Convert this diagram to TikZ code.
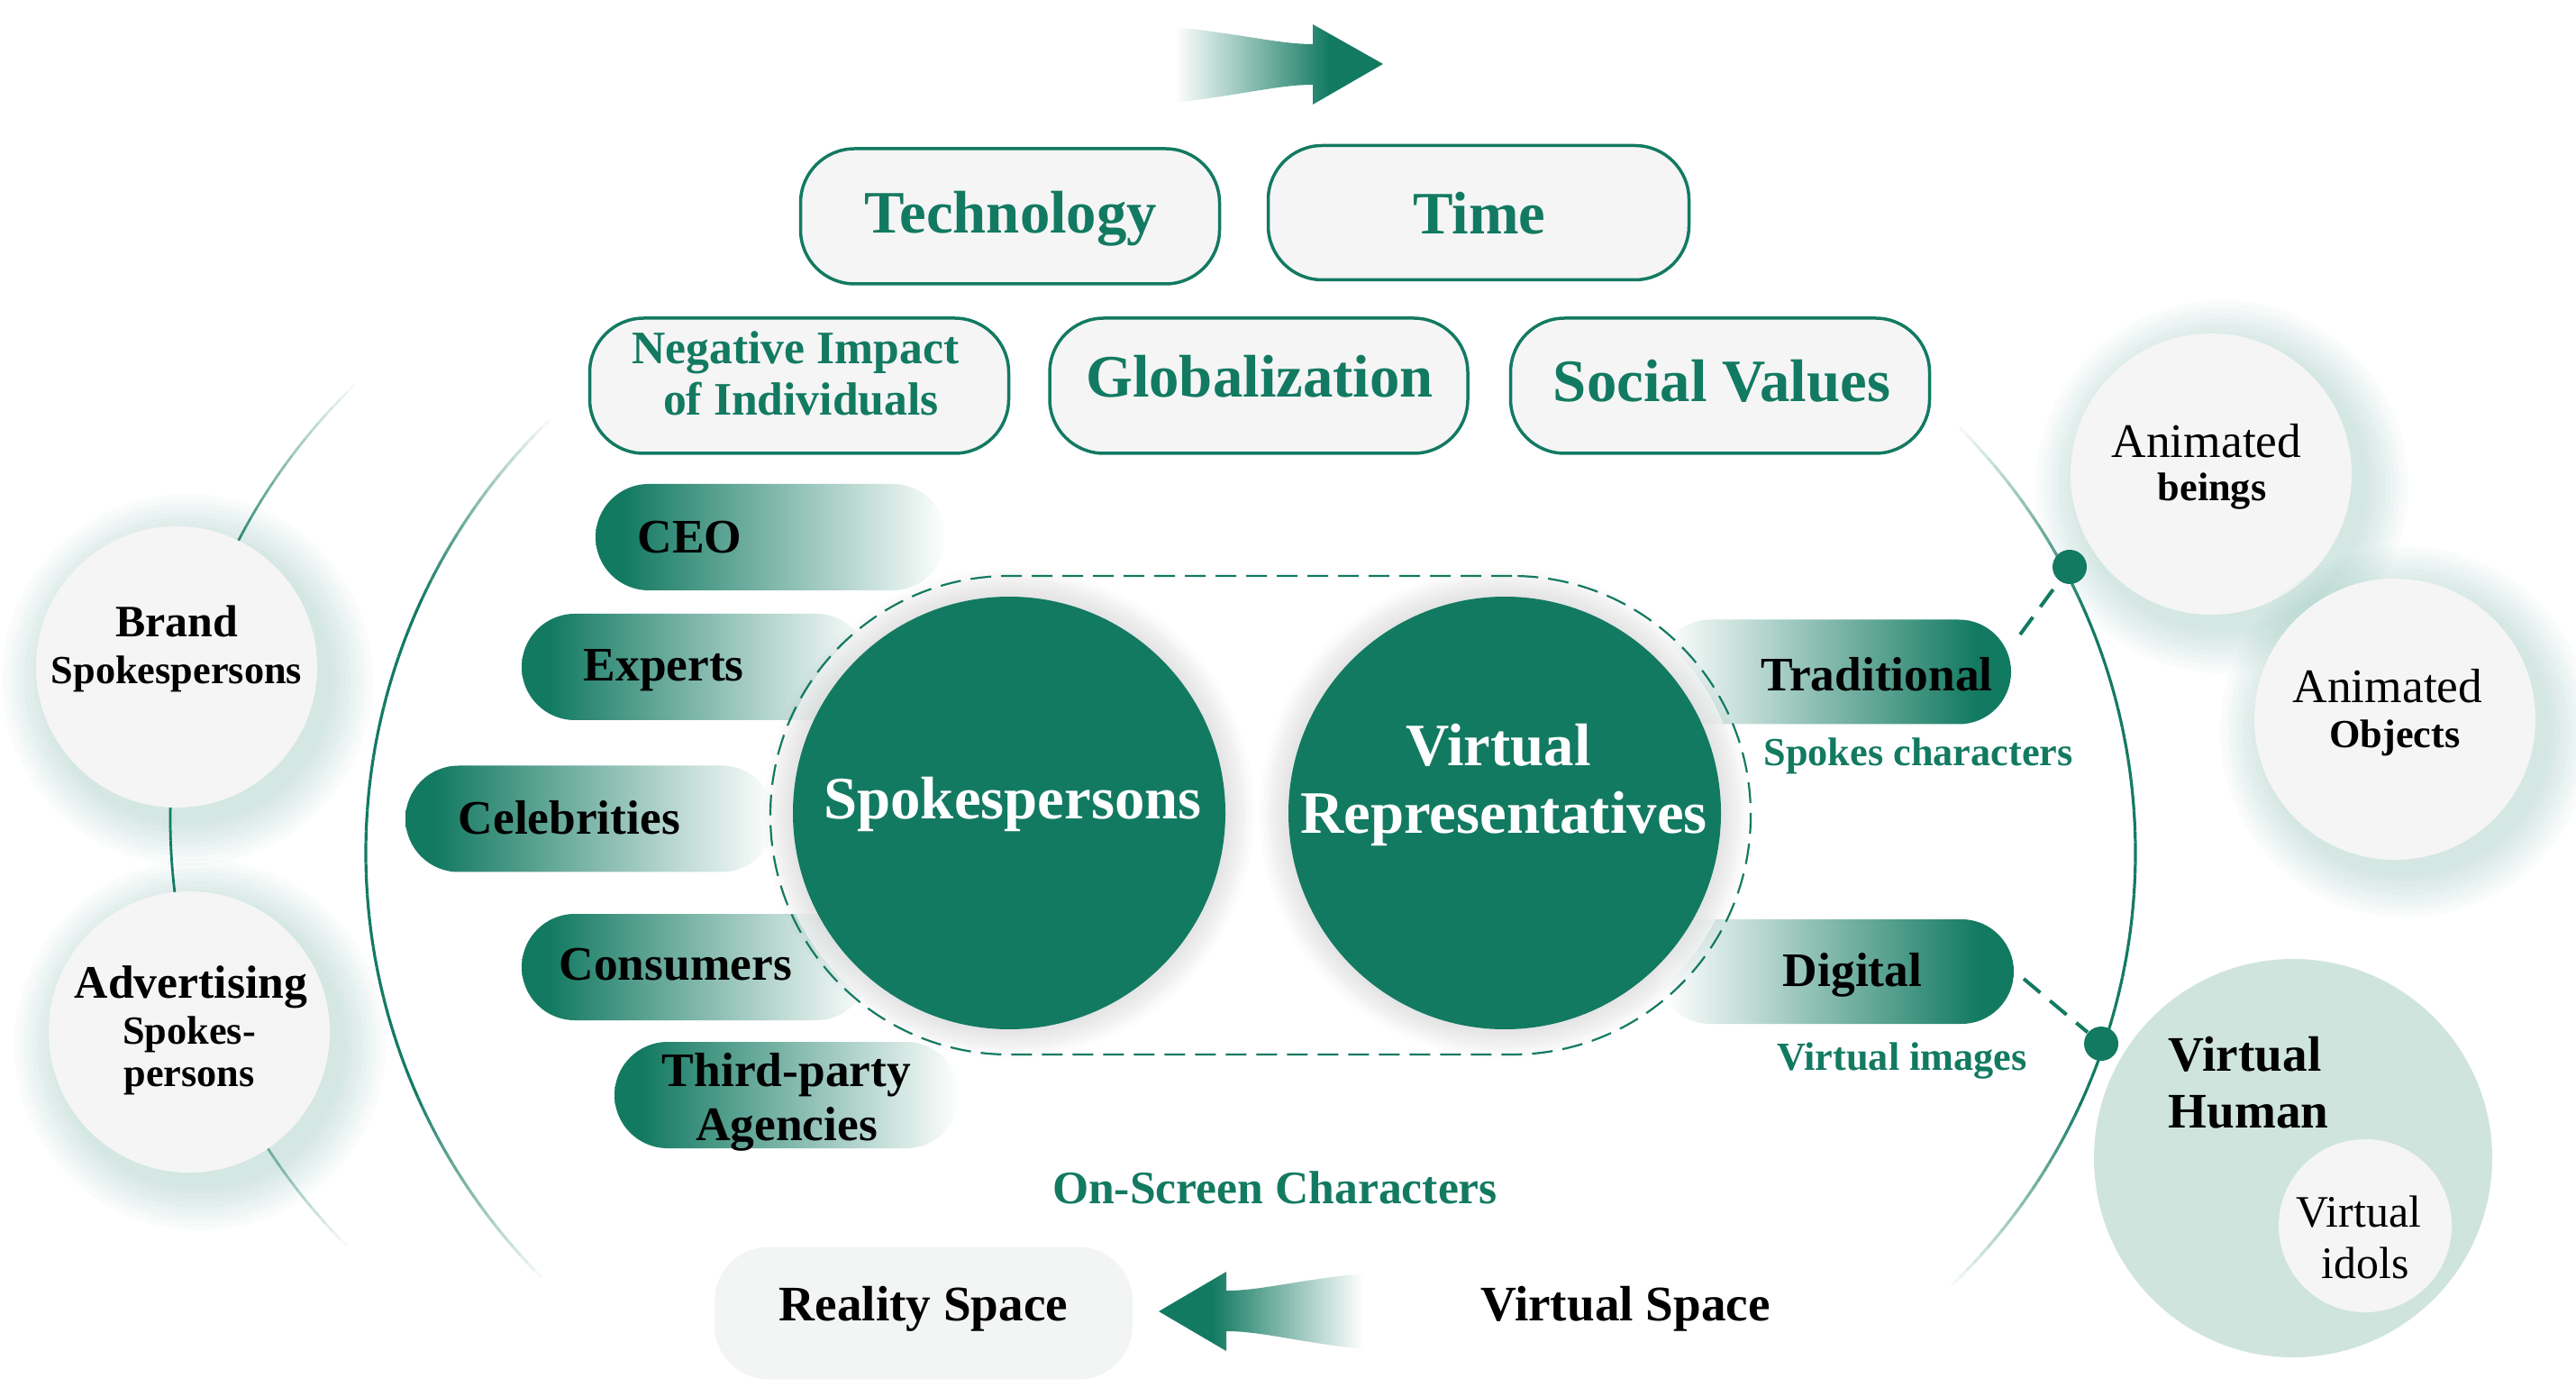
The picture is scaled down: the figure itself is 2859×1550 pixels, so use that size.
\documentclass[tikz,border=0pt]{standalone}
\usepackage{fontspec}
\setmainfont{Liberation Serif}
\definecolor{tg}{HTML}{137A62}
\definecolor{lg}{HTML}{F5F5F5}
\definecolor{lgreen}{HTML}{CFE4DD}
\definecolor{rsfill}{HTML}{F2F5F3}
\pgfdeclarehorizontalshading{fadeR}{100bp}{color(0bp)=(tg); color(29bp)=(tg); color(75bp)=(white); color(100bp)=(white)}
\pgfdeclarehorizontalshading{fadeL}{100bp}{color(0bp)=(white); color(26bp)=(white); color(70bp)=(tg); color(100bp)=(tg)}
\pgfdeclarehorizontalshading{arrR}{100bp}{color(0bp)=(white); color(25bp)=(white); color(62bp)=(tg); color(100bp)=(tg)}
\pgfdeclarehorizontalshading{arrL}{100bp}{color(0bp)=(tg); color(38bp)=(tg); color(75bp)=(white); color(100bp)=(white)}
\newcommand\myXL{\fontsize{19}{22}\selectfont\bfseries}
\newcommand\myBar{\fontsize{15.2}{17}\selectfont\bfseries}
\newcommand\myM{\fontsize{14.7}{16}\selectfont\bfseries}
\newcommand\myS{\fontsize{12.6}{14}\selectfont\bfseries}
\newcommand\myglow[3]{\foreach \k in {1,...,10}{\fill[tg, opacity=0.021] (#1,#2) circle[radius={#3+5*\k}];}}
\newcommand\myhalo[2]{\fill[white, opacity=0.7] (#1,#2) circle[radius=262];\foreach \k in {1,...,8}{\fill[black, opacity=0.012] (#1,#2) circle[radius={240+4*\k}];}}
\begin{document}
\begin{tikzpicture}[x=0.1mm,y=-0.1mm,
  pill/.style={draw=tg, line width=0.35mm, fill=lg, rounded corners=6mm, inner sep=0},
  barR/.style={shade, shading=fadeR, rounded corners=5.9mm, minimum height=11.8mm, inner sep=0},
  barL/.style={shade, shading=fadeL, rounded corners=5.8mm, minimum height=11.6mm, inner sep=0},
  bigc/.style={circle, fill=tg, inner sep=0, minimum size=48mm},
  smallc/.style={circle, fill=lg, inner sep=0, minimum size=31.2mm},
  lbl/.style={inner sep=0, anchor=base},
  lblw/.style={inner sep=0, anchor=base west},
  dotc/.style={circle, fill=tg, inner sep=0, minimum size=3.8mm},
  conn/.style={tg, line width=0.4mm, dash pattern=on 2.4mm off 1.4mm},
]
\useasboundingbox (0,0) rectangle (2859,1550);

% ---- big arcs with faded ends
\foreach \a in {134,...,225}{
  \pgfmathsetmacro\op{min(1,min(\a-134,226-\a)/22)}
  \draw[tg, line width=0.32mm, opacity=\op] (1073,946) ++(\a:667) arc[start angle=\a, end angle=\a+1, radius=667];
}
\foreach \a in {-46,...,45}{
  \pgfmathsetmacro\op{min(1,min(\a+46,46-\a)/22)}
  \draw[tg, line width=0.32mm, opacity=\op] (1703,946) ++(\a:667) arc[start angle=\a, end angle=\a+1, radius=667];
}
\foreach \a in {134,...,225}{
  \pgfmathsetmacro\op{min(1,min(\a-134,226-\a)/22)}
  \draw[tg, line width=0.28mm, opacity=\op] (859,909) ++(\a:670) arc[start angle=\a, end angle=\a+1, radius=670];
}

% ---- bars
\node[barR, minimum width=38.9mm] (ceoB) at (855.5,596) {};
\node[barR, minimum width=38.6mm] (expB) at (772,740) {};
\node[barR, minimum width=41mm] (celB) at (655,908.5) {};
\node[barR, minimum width=38.6mm] (conB) at (772,1073) {};
\node[barR, minimum width=38.3mm] (tpB) at (873.5,1215) {};
\node[barL, minimum width=39.2mm] (trB) at (2036,745.5) {};
\node[barL, minimum width=39.5mm] (diB) at (2037.5,1078) {};

% ---- halos of the big circles
\myhalo{1120}{902}
\myhalo{1670}{902}

% ---- dashed frame
\node[draw=tg, line width=0.22mm, dash pattern=on 2.3mm off 1.1mm, rounded corners=26.5mm,
      minimum width=108.8mm, minimum height=53.1mm, inner sep=0] (frame) at (1399,904.5) {};

% ---- big circles
\node[bigc] (spC) at (1120,902) {};
\node[bigc] (vrC) at (1670,902) {};

% ---- small circles
\myglow{208}{754}{156}
\node[smallc] (brandC) at (196,740) {};
\myglow{222}{1159}{156}
\node[smallc] (advC) at (210,1145) {};
\myglow{2466}{540}{157}
\node[smallc] (animBC) at (2454,526) {};
\myglow{2670}{812}{156}
\node[smallc] (animOC) at (2658,798) {};
\node[circle, fill=lgreen, inner sep=0, minimum size=44.2mm] (vhC) at (2545,1285) {};
\node[circle, fill=lg, inner sep=0, minimum size=19.2mm] (viC) at (2625,1360) {};

% ---- factor boxes
\node[pill, minimum width=46.5mm, minimum height=15mm] (techB) at (1121,240) {};
\node[pill, minimum width=46.7mm, minimum height=14.9mm] (timeB) at (1641,236) {};
\node[pill, minimum width=46.5mm, minimum height=15mm] (negB) at (887,428) {};
\node[pill, minimum width=46.4mm, minimum height=15mm] (globB) at (1397,428) {};
\node[pill, minimum width=46.5mm, minimum height=15mm] (socB) at (1909,428) {};

% ---- reality space box
\node[fill=rsfill, rounded corners=6mm, minimum width=46.4mm, minimum height=14.7mm, inner sep=0] (rsB) at (1025,1457) {};

% ---- arrows
\shade[shading=arrR] (1304,30) .. controls (1380,38) and (1420,49) .. (1457,49) -- (1457,27) -- (1535,71) -- (1457,116) -- (1457,94) .. controls (1420,94) and (1380,105) .. (1304,114) -- cycle;
\shade[shading=arrL] (1513,1413) .. controls (1440,1420) and (1400,1432) .. (1361,1432) -- (1361,1411) -- (1286,1455) -- (1361,1499) -- (1361,1477) .. controls (1400,1477) and (1440,1489) .. (1513,1497) -- cycle;

% ---- dots and dashed connectors
\node[dotc] (dot1) at (2297,629) {};
\node[dotc] (dot2) at (2332,1158) {};
\coordinate (trEnd) at (2242,704);
\coordinate (diEnd) at (2246,1086);
\draw[conn] (trEnd) -- (dot1);
\draw[conn] (diEnd) -- (dot2);

% ---- texts
\node[lbl, text=tg, font=\myXL] (techT) at (1122,259) {Technology};
\node[lbl, text=tg, font=\myXL] (timeT) at (1642,260) {Time};
\node[lbl, text=tg, font=\myM] (negT1) at (883,404) {Negative Impact};
\node[lbl, text=tg, font=\myM] (negT2) at (889,461) {of Individuals};
\node[lbl, text=tg, font=\myXL] (globT) at (1398,441) {Globalization};
\node[lbl, text=tg, font=\myXL] (socT) at (1911,446) {Social Values};

\node[lblw, font=\myBar] (ceoT) at (707,614) {CEO};
\node[lblw, font=\myBar] (expT) at (647,756) {Experts};
\node[lblw, font=\myBar] (celT) at (508,926) {Celebrities};
\node[lblw, font=\myBar] (conT) at (620,1087) {Consumers};
\node[lbl, font=\myBar] (tpT1) at (873,1205) {Third-party};
\node[lbl, font=\myBar] (tpT2) at (873,1265) {Agencies};

\node[lbl, text=white, font=\myXL] (spT) at (1124,909) {Spokespersons};
\node[lbl, text=white, font=\myXL] (vrT1) at (1663,850) {Virtual};
\node[lbl, text=white, font=\myXL] (vrT2) at (1669,925) {Representatives};

\node[lbl, font=\myBar] (trT) at (2083,767) {Traditional};
\node[lbl, text=tg, font=\myS] (trS) at (2129,850) {Spokes characters};
\node[lbl, font=\myBar] (diT) at (2056,1094) {Digital};
\node[lbl, text=tg, font=\myS] (diS) at (2111,1187) {Virtual images};

\node[lbl, text=tg, font=\myM] (osT) at (1415,1335) {On-Screen Characters};
\node[lbl, font=\fontsize{15.7}{17}\selectfont\bfseries] (rsT) at (1025,1465) {Reality Space};
\node[lbl, font=\fontsize{15.7}{17}\selectfont\bfseries] (vsT) at (1804,1465) {Virtual Space};

\node[lbl, font=\fontsize{14.2}{16}\selectfont\bfseries] (brT1) at (196,707) {Brand};
\node[lbl, font=\myS] (brT2) at (196,759) {Spokespersons};
\node[lbl, font=\myM] (adT1) at (212,1107) {Advertising};
\node[lbl, font=\myS] (adT2) at (210,1158) {Spokes-};
\node[lbl, font=\myS] (adT3) at (210,1205) {persons};

\node[lbl, font=\fontsize{15.2}{17}\selectfont] (abT1) at (2449,508) {Animated};
\node[lbl, font=\myS] (abT2) at (2455,556) {beings};
\node[lbl, font=\fontsize{15.2}{17}\selectfont] (aoT1) at (2650,780) {Animated};
\node[lbl, font=\myS] (aoT2) at (2658,830) {Objects};

\node[lblw, font=\fontsize{15.7}{17}\selectfont\bfseries] (vhT1) at (2406,1188) {Virtual};
\node[lblw, font=\fontsize{15.7}{17}\selectfont\bfseries] (vhT2) at (2406,1251) {Human};
\node[lbl, font=\fontsize{14.2}{16}\selectfont] (viT1) at (2618,1361) {Virtual};
\node[lbl, font=\fontsize{14.2}{16}\selectfont] (viT2) at (2625,1418) {idols};
\end{tikzpicture}
\end{document}
